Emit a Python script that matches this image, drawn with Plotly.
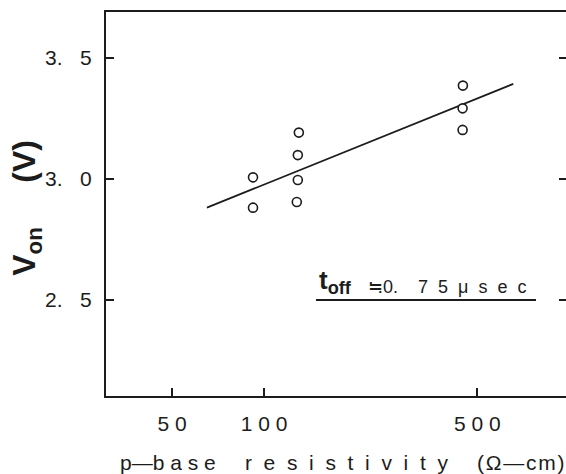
import plotly.graph_objects as go

# Data
resistivity = [92, 92, 130, 129, 129, 128, 448, 447, 447]
v_on = [3.005, 2.880, 3.190, 3.097, 2.994, 2.903, 3.384, 3.290, 3.201]
fit_x = [65, 655]
fit_y = [2.880, 3.391]

NB = "\u00a0"
HS = "\u200a"
x_tickvals = [50, 100, 500]
x_ticktext = ["5" + NB + "0", "1" + NB + "0" + NB + "0", "5" + NB + "0" + NB + "0"]
y_tickvals = [2.5, 3.0, 3.5]
y_ticktext = ["2." + NB * 3 + "5", "3." + NB * 3 + "0", "3." + NB * 3 + "5"]

ink = "#1c1c1c"
font_family = "Liberation Sans, Arial, sans-serif"


def spaced(word, sep):
    return sep.join(list(word))


x_title = ("p—" + spaced("base", NB) + NB * 5 + spaced("resistivity", NB * 2) + NB * 5
           + spaced("(Ω—cm)", HS))
y_title = "<b>V<sub>on</sub>" + NB * 5 + "(V)</b>"
t_main = "<b>t</b><sub><b>off</b></sub>"
t_rest = "≒0." + NB * 4 + spaced("75μsec", NB * 2)

fig = go.Figure()
fig.add_trace(go.Scatter(x=fit_x, y=fit_y, mode="lines",
                         line=dict(color=ink, width=1.8), showlegend=False, hoverinfo="skip"))
fig.add_trace(go.Scatter(x=resistivity, y=v_on, mode="markers",
                         marker=dict(symbol="circle", size=9, color="white",
                                     line=dict(color=ink, width=1.6)),
                         showlegend=False))
# invisible trace to realise the right-hand tick axis
fig.add_trace(go.Scatter(x=[100], y=[3.0], yaxis="y2", mode="markers",
                         marker=dict(opacity=0), showlegend=False, hoverinfo="skip"))

fig.update_layout(
    width=566, height=474,
    margin=dict(l=106, r=0, t=12, b=78),
    paper_bgcolor="white", plot_bgcolor="white",
    font=dict(family=font_family, color=ink),
    xaxis=dict(type="log", range=[1.4823, 2.989],
               tickvals=x_tickvals, ticktext=x_ticktext,
               ticks="inside", ticklen=8, tickwidth=1.5, tickcolor=ink,
               showline=True, linewidth=2, linecolor=ink, mirror=True,
               showgrid=False, zeroline=False,
               tickfont=dict(size=21, family=font_family, color=ink),
               ticklabelstandoff=8),
    yaxis=dict(range=[2.102, 3.688],
               tickvals=y_tickvals, ticktext=y_ticktext,
               ticks="inside", ticklen=8, tickwidth=1.5, tickcolor=ink,
               showline=True, linewidth=2, linecolor=ink, mirror=False,
               showgrid=False, zeroline=False,
               tickfont=dict(size=21, family=font_family, color=ink),
               ticklabelstandoff=8),
    yaxis2=dict(range=[2.102, 3.688], overlaying="y", side="right", anchor="x",
                tickvals=y_tickvals, showticklabels=False,
                ticks="inside", ticklen=7, tickwidth=1.5, tickcolor=ink,
                showline=False, showgrid=False, zeroline=False),
)

# x-axis title
fig.add_annotation(text=x_title, xref="paper", yref="paper", x=0.515, y=0,
                   xanchor="center", yanchor="middle", yshift=-66, showarrow=False,
                   font=dict(size=21, family=font_family, color=ink))
# y-axis title
fig.add_annotation(text=y_title, textangle=-90,
                   xref="paper", yref="paper", x=0, y=0.49, xanchor="center", yanchor="middle",
                   xshift=-79, showarrow=False,
                   font=dict(size=32, family=font_family, color=ink))

fig.add_annotation(text=t_main,
                   xref="paper", yref="paper", x=0.4587, y=0.25, xanchor="left", yanchor="bottom",
                   yshift=0, showarrow=False,
                   font=dict(size=26, family=font_family, color=ink))
fig.add_annotation(text=t_rest,
                   xref="paper", yref="paper", x=0.5652, y=0.25, xanchor="left", yanchor="bottom",
                   yshift=1, showarrow=False,
                   font=dict(size=18, family=font_family, color=ink))
fig.add_shape(type="line", xref="paper", yref="paper", x0=0.4565, x1=0.9348, y0=0.25, y1=0.25,
              line=dict(color=ink, width=2))

fig.write_html("out.html")
